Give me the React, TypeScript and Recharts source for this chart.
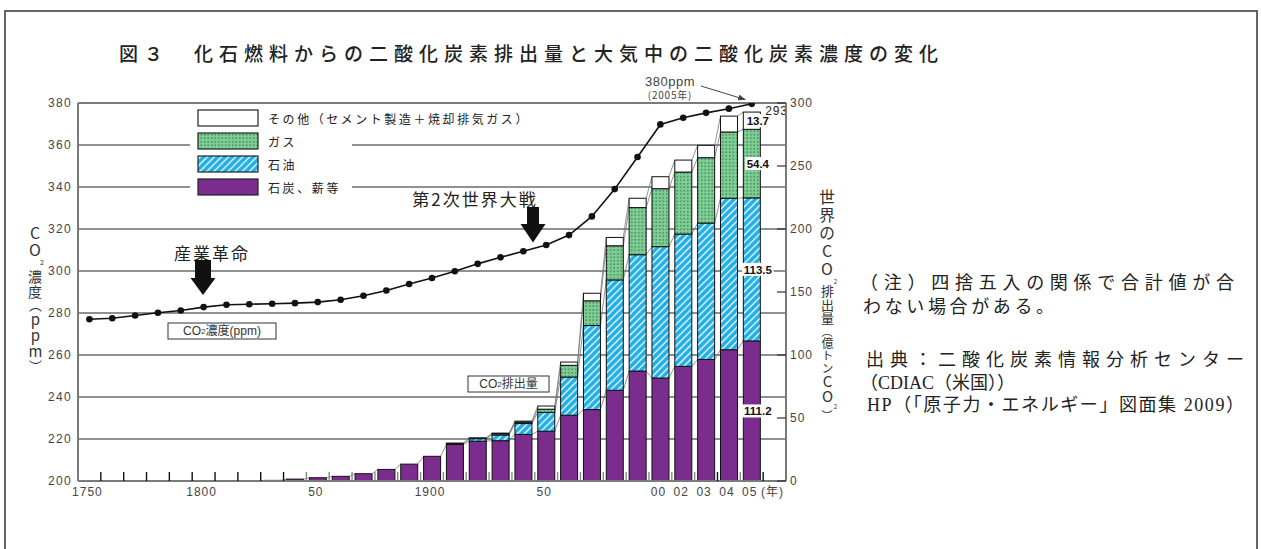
import React from 'react';
import { ComposedChart, Bar, Line, XAxis, YAxis, CartesianGrid, ReferenceLine } from 'recharts';

// categories (10-year steps, then recent years, then an empty slot for the unit label)
const years = ['1750', '1760', '1770', '1780', '1790', '1800', '1810', '1820', '1830', '1840', '1850', '1860', '1870', '1880', '1890', '1900', '1910', '1920', '1930', '1940', '1950', '1960', '1970', '1980', '1990', '2000', '2002', '2003', '2004', '2005', '(年)'];
const yearTickLabels = ['1750', '', '', '', '', '1800', '', '', '', '', '50', '', '', '', '', '1900', '', '', '', '', '50', '', '', '', '', '00', '02', '03', '04', '05', '(年)'];

// CO2 emissions (億トンCO2), stacked
const coal = [0, 0, 0, 0, 0, 0, 0, 0, 0.5, 1.5, 2.6, 3.7, 5.8, 9.2, 13.4, 19.6, 29, 31.6, 32, 37, 39.5, 52.2, 56.7, 72, 87.3, 81.7, 91, 96.5, 104.2, 111.2, null];
const oil = [0, 0, 0, 0, 0, 0, 0, 0, 0, 0, 0, 0, 0, 0, 0, 0, 0.8, 2.0, 4.5, 8.6, 14.9, 30.3, 66.7, 87.6, 92.3, 104.3, 105, 108.2, 120.2, 113.5, null];
const gas = [0, 0, 0, 0, 0, 0, 0, 0, 0, 0, 0, 0, 0, 0, 0, 0, 0, 0.2, 1, 1, 2.6, 9.3, 19.6, 27.1, 37.4, 46, 49.2, 51.9, 52.6, 54.4, null];
const other = [0, 0, 0, 0, 0, 0, 0, 0, 0, 0, 0, 0, 0, 0, 0, 0, 0.3, 0.5, 0.5, 0.9, 2.5, 2.6, 6, 6.6, 7.4, 9.5, 9.5, 9.8, 12.6, 13.7, null];

// atmospheric CO2 concentration (ppm)
const ppm = [277, 277.5, 278.8, 280.1, 281.2, 282.8, 283.9, 284.2, 284.4, 284.7, 285.2, 286.3, 288.2, 290.7, 293.8, 296.7, 299.9, 303.4, 306.5, 309.4, 312.4, 317.1, 326, 339, 354.3, 369.8, 373, 375.3, 377.3, 379.6, null];

const ppmTicks = [200, 220, 240, 260, 280, 300, 320, 340, 360, 380];
const gridPpm = [220, 240, 260, 280, 300, 320, 340, 360];
const emissionTicks = [0, 50, 100, 150, 200, 250, 300];

const legendNames = ['その他（セメント製造＋焼却排気ガス）', 'ガス', '石油', '石炭、薪等'];

const rows = years.map((year, i) => ({
  year,
  coal: coal[i],
  oil: oil[i],
  gas: gas[i],
  other: other[i],
  ppm: ppm[i],
}));

const stackKeys = ['coal', 'oil', 'gas', 'other'];
const labelIndex = rows.reduce((last, r, i) => (r.coal != null ? i : last), 0);

const W = 1261;
const H = 549;
const PLOT_LEFT = 78;
const PLOT_RIGHT = 786;
const PLOT_TOP = 103;
const PLOT_BOTTOM = 481;
const BAND = (PLOT_RIGHT - PLOT_LEFT) / years.length;
const EMIT_MAX = 300;

const SANS = "'Liberation Sans', Arial, 'Noto Sans CJK JP', sans-serif";
const CJK = "'Noto Sans CJK JP', 'Liberation Sans', sans-serif";
const SERIF = "'Liberation Serif', 'Noto Sans CJK JP', serif";

const PURPLE = '#7b2d8d';
const BLUE = '#1faee6';
const GREEN = '#7dcf95';

const cumAt = (i: number, level: number) =>
  stackKeys.slice(0, level + 1).reduce((s, k) => s + ((rows[i] as any)[k] || 0), 0);

function makeShape(level: number, fill: string) {
  return (props: any) => {
    const { x, y, width, height, payload, background } = props;
    const i = props.index != null ? props.index : rows.findIndex((r) => r.year === payload?.year);
    if (!height || height <= 0 || i < 0) return <g />;
    const bottom = background ? background.y + background.height : PLOT_BOTTOM;
    const ppu = (background ? background.height : PLOT_BOTTOM - PLOT_TOP) / EMIT_MAX;
    const next = rows[i + 1] as any;
    let conn = null;
    if (next && next.coal != null && next[stackKeys[level]] > 0) {
      const yn = bottom - cumAt(i + 1, level) * ppu;
      conn = <line x1={x + width} y1={y} x2={x + BAND} y2={yn} stroke="#777" strokeWidth={0.8} />;
    }
    let label = null;
    if (i === labelIndex) {
      const value = (rows[i] as any)[stackKeys[level]];
      const txt = String(value);
      const cx = x + width / 2 + 6;
      const cy = y + height / 2;
      const tw = txt.length * 5.9 + 2;
      label = (
        <g>
          <rect x={cx - tw / 2} y={cy - 6.5} width={tw} height={13} fill="#fff" />
          <text x={cx} y={cy} dy="0.36em" textAnchor="middle" fontSize={11.5} fontFamily={SANS} fill="#111" fontWeight={600}>
            {txt}
          </text>
          {level === stackKeys.length - 1 && (
            <text x={x + width + 5} y={y - 1} dy="0.36em" fontSize={12} fontFamily={SANS} fill="#222" style={{ letterSpacing: 0.8 }}>
              {Math.round(cumAt(i, level))}
            </text>
          )}
        </g>
      );
    }
    return (
      <g>
        <rect x={x} y={y} width={width} height={height} fill={fill} stroke="#111" strokeWidth={1} />
        {conn}
        {label}
      </g>
    );
  };
}

const XTick = (props: any) => {
  const { x, y, index } = props;
  const axisY = y - 6;
  const dark = index < 10 || index === 28 || index === 30;
  return (
    <g>
      {index > 0 && (
        <line x1={x - BAND / 2} x2={x - BAND / 2} y1={axisY} y2={axisY - 9} stroke={dark ? '#111' : '#888'} strokeWidth={1.4} />
      )}
      <text x={x - 2} y={axisY + 15} textAnchor="middle" fontSize={12} fontFamily={SANS} fill="#444" style={{ letterSpacing: 1 }}>
        {yearTickLabels[index]}
      </text>
    </g>
  );
};

const RightTick = (props: any) => {
  const { x, y, payload } = props;
  return (
    <g>
      <line x1={x - 13} x2={x - 4} y1={y} y2={y} stroke="#333" strokeWidth={1.2} />
      <text x={x} y={y} dy="0.36em" fontSize={12} fontFamily={SANS} fill="#444" style={{ letterSpacing: 1 }}>
        {payload.value}
      </text>
    </g>
  );
};

// vertical axis titles as runs: [text, fontSize, letterSpacing, shiftRight]
type Run = [string, number, number, number];
const leftTitle: Run[] = [
  ['CO', 16, 1, 0],
  ['2', 7, 4, 7],
  ['濃度', 14, 0.5, 0],
  ['（', 13, 0, 0],
  ['ppm', 15, 1, 0],
  ['）', 13, 0, 0],
];
const rightTitle: Run[] = [
  ['世界のCO', 16, 2, 0],
  ['2', 6, 0, 8],
  ['排出量', 13, 0.5, 0],
  ['（', 11, 0, 0],
  ['億トン', 12, 0.5, 0],
  ['CO', 15, 0, 0],
  ['2', 6, 0, 8],
  ['）', 11, 0, 0],
];

const VerticalTitle = ({ runs, cx, top }: { runs: Run[]; cx: number; top: number }) => (
  <div
    style={{
      position: 'absolute',
      left: cx - 10,
      top,
      width: 20,
      writingMode: 'vertical-rl',
      textOrientation: 'upright',
      lineHeight: '20px',
      fontFamily: CJK,
      color: '#333',
      whiteSpace: 'nowrap',
    }}
  >
    {runs.map(([t, s, ls, dx], k) => (
      <span key={k} style={{ fontSize: s, letterSpacing: ls, position: 'relative', left: dx }}>
        {t}
      </span>
    ))}
  </div>
);

const noteLines: [string, number, number, number | undefined][] = [
  ['（注）四捨五入の関係で合計値が合', 860, 283, 374],
  ['わない場合がある。', 863, 307, 191],
  ['出典：二酸化炭素情報分析センター', 866, 360, 378],
  ['（CDIAC（米国））', 860, 383, undefined],
  ['HP（「原子力・エネルギー」図面集 2009）', 867, 405, 377],
];

export default function App() {
  const legendFills = ['#fff', 'url(#dotsPat)', 'url(#hatchPat)', PURPLE];
  return (
    <div style={{ position: 'absolute', left: 0, top: 0, width: W, height: H, background: '#fff', overflow: 'hidden' }}>
      <div style={{ position: 'absolute', left: 0, top: 0 }}>
        <ComposedChart width={W} height={H} data={rows} margin={{ top: PLOT_TOP, right: 0, bottom: 0, left: 0 }} barSize={17}>
          <CartesianGrid yAxisId="left" vertical={false} horizontalValues={gridPpm} stroke="#222" strokeWidth={1.2} />
          <XAxis
            dataKey="year"
            height={H - PLOT_BOTTOM}
            interval={0}
            tickLine={false}
            tickSize={0}
            tickMargin={6}
            axisLine={{ stroke: '#7a7a7a', strokeWidth: 2 }}
            tick={<XTick />}
          />
          <YAxis
            yAxisId="left"
            orientation="left"
            width={PLOT_LEFT}
            domain={[200, 380]}
            ticks={ppmTicks}
            interval={0}
            allowDataOverflow
            tickLine={false}
            tickSize={0}
            tickMargin={6}
            axisLine={{ stroke: '#7a7a7a', strokeWidth: 2 }}
            tick={{ fill: '#444', fontSize: 12, fontFamily: SANS, style: { letterSpacing: 1.3 } }}
          />
          <YAxis
            yAxisId="right"
            orientation="right"
            width={W - PLOT_RIGHT}
            domain={[0, EMIT_MAX]}
            ticks={emissionTicks}
            interval={0}
            allowDataOverflow
            tickLine={false}
            tickSize={0}
            tickMargin={4}
            axisLine={{ stroke: '#7a7a7a', strokeWidth: 2 }}
            tick={<RightTick />}
          />
          <ReferenceLine yAxisId="left" y={380} stroke="#7a7a7a" strokeWidth={2} />
          <Bar yAxisId="right" dataKey="coal" stackId="e" shape={makeShape(0, PURPLE)} isAnimationActive={false} />
          <Bar yAxisId="right" dataKey="oil" stackId="e" shape={makeShape(1, 'url(#hatchPat)')} isAnimationActive={false} />
          <Bar yAxisId="right" dataKey="gas" stackId="e" shape={makeShape(2, 'url(#dotsPat)')} isAnimationActive={false} />
          <Bar yAxisId="right" dataKey="other" stackId="e" shape={makeShape(3, '#fff')} isAnimationActive={false} />
          <Line
            yAxisId="left"
            dataKey="ppm"
            type="linear"
            stroke="#111"
            strokeWidth={1.6}
            dot={{ r: 3.3, fill: '#111', stroke: '#111', strokeWidth: 0 }}
            activeDot={false}
            isAnimationActive={false}
          />
        </ComposedChart>
      </div>

      <svg width={W} height={H} style={{ position: 'absolute', left: 0, top: 0, pointerEvents: 'none' }}>
        <defs>
          <pattern id="dotsPat" width="3.5" height="3.5" patternUnits="userSpaceOnUse">
            <rect width="3.5" height="3.5" fill={GREEN} />
            <rect x="1.2" y="1.2" width="1.1" height="1.1" fill="#1d3a26" />
          </pattern>
          <pattern id="hatchPat" width="5" height="5" patternUnits="userSpaceOnUse" patternTransform="rotate(45)">
            <rect width="5" height="5" fill={BLUE} />
            <line x1="2.5" y1="0" x2="2.5" y2="5" stroke="#fff" strokeWidth="1.3" />
          </pattern>
          <marker id="arrowHead" markerWidth="8" markerHeight="6" refX="7" refY="3" orient="auto" markerUnits="userSpaceOnUse">
            <path d="M0,0 L8,3 L0,6 z" fill="#444" />
          </marker>
        </defs>

        {/* outer frame */}
        <rect x={5} y={11} width={1252} height={580} fill="none" stroke="#555" strokeWidth={1.8} />

        {/* title */}
        <text x={119} y={52} dominantBaseline="central" fontSize={19} fontFamily={CJK} fontWeight={500} fill="#222" style={{ letterSpacing: 6 }}>
          図３　化石燃料からの二酸化炭素排出量と大気中の二酸化炭素濃度の変化
        </text>

        {/* legend */}
        <rect x={190} y={105} width={162} height={93} fill="#fff" />
        {legendNames.map((name, k) => {
          const top = 110 + k * 23;
          return (
            <g key={name}>
              <rect x={198} y={top} width={60} height={16} fill={legendFills[k]} stroke="#222" strokeWidth={1.2} />
              <text
                x={268}
                y={top + 8}
                dominantBaseline="central"
                fontSize={12}
                fontFamily={CJK}
                fill="#222"
                style={{ letterSpacing: 2.6 }}
                textLength={k === 0 ? 262 : undefined}
                lengthAdjust={k === 0 ? 'spacing' : undefined}
              >
                {name}
              </text>
            </g>
          );
        })}

        {/* event arrows */}
        <text x={212} y={252} textAnchor="middle" dominantBaseline="central" fontSize={17} fontFamily={CJK} fill="#222" style={{ letterSpacing: 2 }}>
          産業革命
        </text>
        <polygon points="195,260 211,260 211,278 215.5,278 203,295 190.5,278 195,278" fill="#111" />
        <text x={475} y={198} textAnchor="middle" dominantBaseline="central" fontSize={17} fontFamily={CJK} fill="#222" style={{ letterSpacing: 2 }}>
          第2次世界大戦
        </text>
        <polygon points="527,207 539,207 539,224 545.5,224 533,242.5 520.5,224 527,224" fill="#111" />

        {/* series tags */}
        <rect x={168} y={323} width={108} height={16} fill="#fff" stroke="#333" strokeWidth={1} />
        <text x={222} y={331} textAnchor="middle" dominantBaseline="central" fontSize={12} fontFamily={SANS} fill="#333">
          CO<tspan fontSize={8}>2</tspan>濃度(ppm)
        </text>
        <rect x={468} y={376} width={81} height={16} fill="#fff" stroke="#333" strokeWidth={1} />
        <text x={508.5} y={384} textAnchor="middle" dominantBaseline="central" fontSize={12} fontFamily={SANS} fill="#333">
          CO<tspan fontSize={8}>2</tspan>排出量
        </text>

        {/* 2005 concentration callout */}
        <text x={670} y={81.5} textAnchor="middle" dominantBaseline="central" fontSize={13} fontFamily={SANS} fill="#444" style={{ letterSpacing: 0.5 }}>
          380ppm
        </text>
        <text x={670} y={94} textAnchor="middle" dominantBaseline="central" fontSize={10} fontFamily={CJK} fill="#444" style={{ letterSpacing: 0.8 }}>
          (2005年)
        </text>
        <line x1={701} y1={86} x2={745} y2={99.5} stroke="#444" strokeWidth={1} markerEnd="url(#arrowHead)" />

        {/* notes */}
        {noteLines.map(([t, x, y, len], k) => (
          <text
            key={k}
            x={x}
            y={y}
            dominantBaseline="central"
            fontSize={18}
            fontFamily={SERIF}
            fill="#222"
            textLength={len}
            lengthAdjust={len ? 'spacing' : undefined}
          >
            {t}
          </text>
        ))}
      </svg>

      {/* axis titles */}
      <VerticalTitle runs={leftTitle} cx={35} top={225} />
      <VerticalTitle runs={rightTitle} cx={827} top={189} />
    </div>
  );
}
